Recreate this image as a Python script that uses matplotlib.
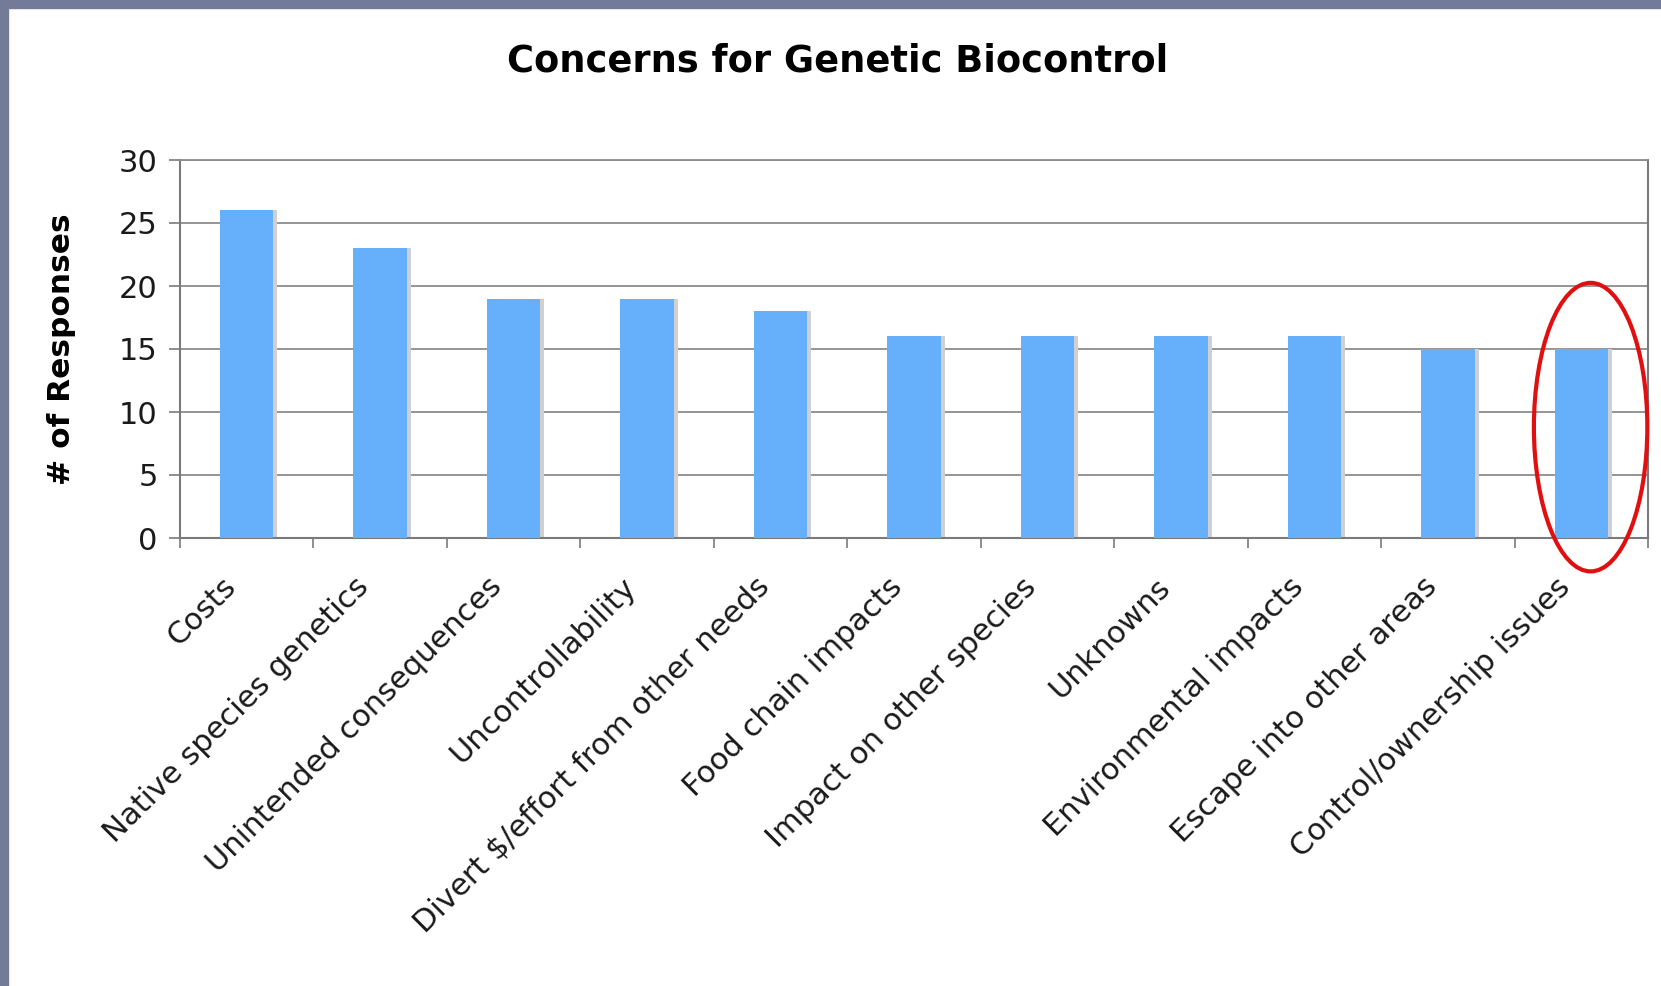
import matplotlib
matplotlib.use("Agg")
import matplotlib.pyplot as plt
from matplotlib.patches import Ellipse, Rectangle
import matplotlib.transforms as mtransforms

categories = ["Costs", "Native species genetics", "Unintended consequences",
              "Uncontrollability", "Divert $/effort from other needs",
              "Food chain impacts", "Impact on other species", "Unknowns",
              "Environmental impacts", "Escape into other areas",
              "Control/ownership issues"]
responses = [26, 23, 19, 19, 18, 16, 16, 16, 16, 15, 15]
yticks = [0, 5, 10, 15, 20, 25, 30]

plt.rcParams['font.family'] = ['DejaVu Sans']

W, H = 1661, 986
fig = plt.figure(figsize=(W / 100, H / 100), dpi=100)
fig.patch.set_facecolor("white")

# slide frame
frame_col = "#737b98"
fig.patches.append(Rectangle((0, 1 - 8 / H), 1, 8 / H, transform=fig.transFigure,
                             color=frame_col, zorder=0))
fig.patches.append(Rectangle((0, 0), 8 / W, 1, transform=fig.transFigure,
                             color=frame_col, zorder=0))

ax = fig.add_axes([180 / W, 1 - 538 / H, (1648 - 180) / W, (538 - 160) / H])
n = len(categories)
x = [i + 0.5 for i in range(n)]

# shadow then bars
ax.bar([xi + 0.03 for xi in x], responses, width=0.40, color="#d0d0d0",
       zorder=2, linewidth=0)
ax.bar(x, responses, width=0.40, color="#66b0fb", zorder=3, linewidth=0)

ax.set_xlim(0, n)
ax.set_ylim(0, 30)
ax.set_yticks(yticks)
ax.yaxis.grid(True, color="#8c8c8c", linewidth=1.3, zorder=1)
ax.set_axisbelow(True)

for s in ["left", "bottom", "right"]:
    ax.spines[s].set_color("#7a7a7a")
    ax.spines[s].set_linewidth(1.5)
ax.spines["top"].set_color("#8c8c8c")
ax.spines["top"].set_linewidth(1.3)

ax.set_xticks(x)
ax.set_xticks(range(n + 1), minor=True)
ax.tick_params(axis="x", which="major", length=0, pad=0)
ax.tick_params(axis="x", which="minor", length=7, width=1.2, color="#7a7a7a",
               direction="out")
ax.tick_params(axis="y", length=8, width=1.2, color="#7a7a7a", labelsize=22,
               labelcolor="#1a1a1a", pad=8)
ax.set_xticklabels(categories, rotation=45, ha="right", va="top",
                   rotation_mode="anchor", fontsize=22, color="#1a1a1a")
offset = mtransforms.ScaledTranslation(-0.26, -0.34, fig.dpi_scale_trans)
for lab in ax.get_xticklabels():
    lab.set_transform(lab.get_transform() + offset)

ax.set_ylabel("# of Responses", fontsize=22.5, fontweight="bold")
ax.yaxis.set_label_coords(-0.071, 0.5)
fig.text(0.5 * (506 + 1170) / W, 1 - 61 / H, "Concerns for Genetic Biocontrol",
         ha="center", va="center", fontsize=26.5, fontweight="bold")

# highlight ellipse around last bar
ell = Ellipse((10.57, 8.8), width=0.85, height=22.9, fill=False,
              edgecolor="#e01010", linewidth=3, clip_on=False, zorder=5)
ax.add_patch(ell)

fig.savefig("out.png", dpi=100, facecolor="white")
